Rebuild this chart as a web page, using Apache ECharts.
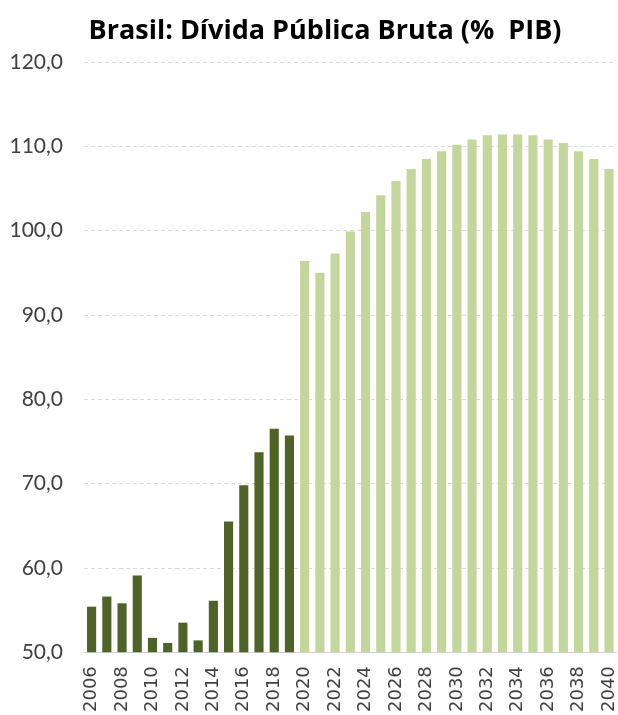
<!DOCTYPE html>
<html>
<head>
<meta charset="utf-8">
<script src="https://cdn.jsdelivr.net/npm/echarts@6/dist/echarts.min.js"></script>
<style>
  html, body { margin: 0; padding: 0; background: #ffffff; }
  #chart { width: 618px; height: 715px; }
</style>
</head>
<body>
<div id="chart"></div>
<script>
// Dívida bruta do governo geral, % do PIB: realizado (2006–2019) e projeção (2020–2040)
const years = [];
for (let y = 2006; y <= 2040; y++) years.push(String(y));

const historical = [55.4, 56.6, 55.8, 59.1, 51.7, 51.1, 53.5, 51.4, 56.1, 65.5,
                    69.8, 73.7, 76.5, 75.7];
const projected = [96.4, 95.0, 97.3, 99.9, 102.2, 104.2, 105.9, 107.3, 108.5, 109.4,
                   110.2, 110.8, 111.3, 111.4, 111.4, 111.3, 110.8, 110.4, 109.4, 108.5,
                   107.3];

const yTicks = [50, 60, 70, 80, 90, 100, 110, 120];

const titleText = 'Brasil: Dívida Pública Bruta (%  PIB)';

const DARK = '#4f6228';
const LIGHT = '#c3d69b';

const values = historical.concat(projected);
const barData = values.map((v, i) => ({
  value: v,
  itemStyle: { color: i < historical.length ? DARK : LIGHT }
}));

const chart = echarts.init(document.getElementById('chart'), null, { renderer: 'canvas' });
chart.setOption({
  backgroundColor: '#ffffff',
  animation: false,
  title: {
    text: titleText,
    left: 320,
    textAlign: 'center',
    top: 13,
    textStyle: {
      fontFamily: 'Open Sans',
      fontWeight: 'bold',
      fontSize: 27,
      color: '#000000'
    }
  },
  grid: { left: 84, right: 0, top: 62, bottom: 60 },
  xAxis: {
    type: 'category',
    data: years,
    axisLine: { show: true, lineStyle: { color: '#d0d0d0', width: 1 } },
    axisTick: { show: false },
    axisLabel: {
      rotate: 90,
      interval: 1,
      margin: 14,
      fontFamily: 'DejaVu Sans',
      fontSize: 18,
      color: '#404040'
    }
  },
  yAxis: {
    type: 'value',
    min: yTicks[0],
    max: yTicks[yTicks.length - 1],
    interval: 10,
    axisLine: { show: false },
    axisTick: { show: false },
    splitLine: { show: true, lineStyle: { color: '#d9d9d9', type: [4, 3], width: 1 } },
    axisLabel: {
      margin: 21,
      fontFamily: 'Lato',
      fontSize: 21,
      color: '#404040',
      formatter: v => v.toFixed(1).replace('.', ',')
    }
  },
  series: [{
    type: 'bar',
    data: barData,
    barCategoryGap: '40%'
  }]
});
</script>
</body>
</html>
